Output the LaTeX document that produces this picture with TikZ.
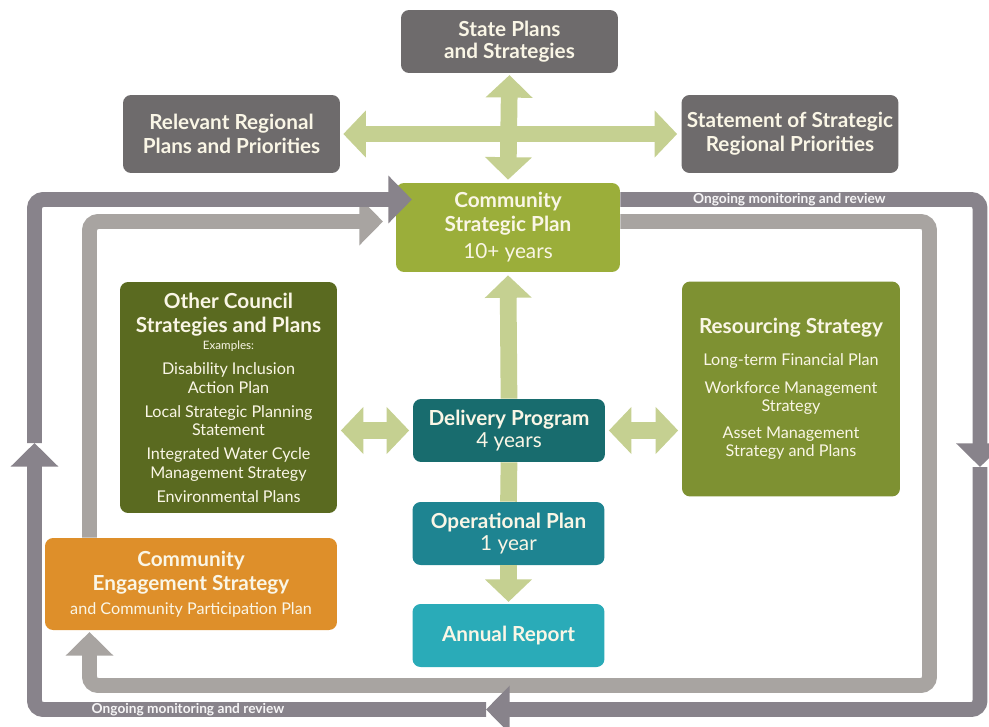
\documentclass[tikz,border=0pt]{standalone}
\usepackage{fontspec}
\setmainfont{Lato}
\usetikzlibrary{arrows.meta}
\definecolor{planGrey}{RGB}{110,107,108}
\definecolor{cspGreen}{RGB}{155,174,58}
\definecolor{otherGreen}{RGB}{90,106,32}
\definecolor{resGreen}{RGB}{126,145,50}
\definecolor{delivTeal}{RGB}{24,108,110}
\definecolor{operTeal}{RGB}{30,132,145}
\definecolor{annTeal}{RGB}{42,171,184}
\definecolor{engOrange}{RGB}{222,143,42}
\definecolor{linkGreen}{RGB}{197,208,145}
\definecolor{loopDark}{RGB}{136,131,139}
\definecolor{loopLight}{RGB}{168,164,161}
\definecolor{cream}{RGB}{250,246,230}
\newcommand{\boxhd}{\fontsize{11.8}{13.5}\selectfont\bfseries\lineskiplimit=-20pt}
\newcommand{\itemtxt}{\fontsize{9.2}{10.5}\selectfont\lineskiplimit=-20pt}
\newcommand{\smalltxt}{\fontsize{6.6}{7}\selectfont}

\begin{document}
\begin{tikzpicture}[x=0.02cm,y=-0.02cm]
  \tikzstyle{box}=[rounded corners=0.16cm,align=center,text=cream,inner sep=0pt]
  \tikzstyle{greybox}=[box,fill=planGrey,minimum width=4.34cm,minimum height=1.56cm,font=\boxhd]
  \tikzstyle{tealbox}=[box,minimum width=3.84cm,minimum height=1.26cm,font=\boxhd]
  \tikzstyle{link}=[draw=linkGreen,line width=9.5pt,-{Triangle[width=26pt,length=12.8pt]}]
  \tikzstyle{twoway}=[link,{Triangle[width=26pt,length=12.8pt]}-{Triangle[width=26pt,length=12.8pt]}]
  \tikzstyle{outerloop}=[draw=loopDark,line width=8.5pt,rounded corners=5pt]
  \tikzstyle{innerloop}=[draw=loopLight,line width=8.5pt,rounded corners=5pt]
  \tikzstyle{loophead}=[-{Triangle[width=26.5pt,length=13.5pt]}]
  \tikzstyle{loopnote}=[font=\fontsize{7.8}{8}\selectfont\bfseries,text=white!92!loopDark,inner sep=0pt]

  \useasboundingbox (0,0) rectangle (989,726);

  % boxes
  \node[greybox,minimum height=1.26cm] (state) at (509.5,41.5) {State Plans\\[-1pt]and Strategies};
  \node[greybox] (regional) at (231.5,134) {Relevant Regional\\Plans and Priorities};
  \node[greybox] (statement) at (790,134) {Statement of Strategic\\Regional Priorities};
  \node[box,fill=cspGreen,minimum width=4.48cm,minimum height=1.78cm,font=\boxhd] (csp) at (508,227.5)
    {Community\\Strategic Plan\\[2pt]{\mdseries 10+ years}};
  \node[box,fill=otherGreen,minimum width=4.34cm,minimum height=4.62cm,font=\itemtxt] (other) at (228.5,397.5)
    {{\boxhd Other Council}\\[3.2pt]{\boxhd Strategies and Plans}\\[-0.5pt]{\smalltxt Examples:}\\[3.7pt]
     Disability Inclusion\\Action Plan\\[3.2pt]Local Strategic Planning\\Statement\\[3.2pt]
     Integrated Water Cycle\\Management Strategy\\[3.2pt]Environmental Plans};
  \node[box,fill=resGreen,minimum width=4.36cm,minimum height=4.3cm,font=\itemtxt] (res) at (791,389)
    {{\boxhd Resourcing Strategy}\\[8pt]Long-term Financial Plan\\[4.9pt]Workforce Management\\Strategy\\[4.9pt]
     Asset Management\\Strategy and Plans};
  \node[tealbox,fill=delivTeal] (delivery) at (509,430.5) {Delivery Program\\[-1pt]{\mdseries 4 years}};
  \node[tealbox,fill=operTeal] (operational) at (508.5,533.5) {Operational Plan\\[-1pt]{\mdseries 1 year}};
  \node[tealbox,fill=annTeal] (annual) at (508.5,635.5) {Annual Report};
  \node[box,fill=engOrange,minimum width=5.84cm,minimum height=1.84cm,font=\boxhd] (engage) at (191,584)
    {Community\\Engagement Strategy\\{\itemtxt\mdseries and Community Participation Plan}};

  % green links
  \draw[twoway,shorten <=1.7pt,shorten >=2.3pt] (regional.east) -- (statement.west);
  \draw[twoway,shorten <=1pt,shorten >=1.7pt] (state.south) -- (csp.north);
  \draw[link,shorten >=1.7pt] (delivery.north) -- (csp.south);
  \draw[link,-] (operational.north) -- (delivery.south);
  \draw[link,shorten >=1pt] (operational.south) -- (annual.north);
  \draw[twoway,shorten <=2pt,shorten >=2pt] (other.east |- delivery.west) -- (delivery.west);
  \draw[twoway,shorten <=2pt,shorten >=2pt] (delivery.east) -- (res.west |- delivery.east);

  % monitoring loops
  \coordinate (otl) at (34.5,199.5);
  \coordinate (otr) at (980,199.5);
  \coordinate (obr) at (980,709.5);
  \coordinate (obl) at (34.5,709.5);
  \coordinate (odown) at (980,467);
  \coordinate (oleft) at (486,709.5);
  \coordinate (oup) at (34.5,443);
  \coordinate (oin) at (412,199.5);
  \coordinate (itl) at (89.5,221.5);
  \coordinate (itr) at (929.5,221.5);
  \coordinate (ibr) at (929.5,685.5);
  \coordinate (ibl) at (89.5,685.5);
  \coordinate (iup) at (89.5,632);
  \coordinate (iin) at (383,221.5);

  \draw[innerloop,loophead] (csp.east |- itr) -- (itr) -- (ibr) -- (ibl) -- (iup);
  \draw[innerloop,loophead] (engage.north -| itl) -- (itl) -- (iin);
  \draw[outerloop,loophead] (csp.east |- otr) -- node[loopnote,pos=0.47]{Ongoing monitoring and review} (otr) -- (odown);
  \draw[outerloop,loophead] (odown) -- (obr) -- (oleft);
  \draw[outerloop,loophead] (oleft) -- node[loopnote,pos=0.66]{Ongoing monitoring and review} (obl) -- (oup);
  \draw[outerloop,loophead] (oup) -- (otl) -- (oin);
\end{tikzpicture}
\end{document}
